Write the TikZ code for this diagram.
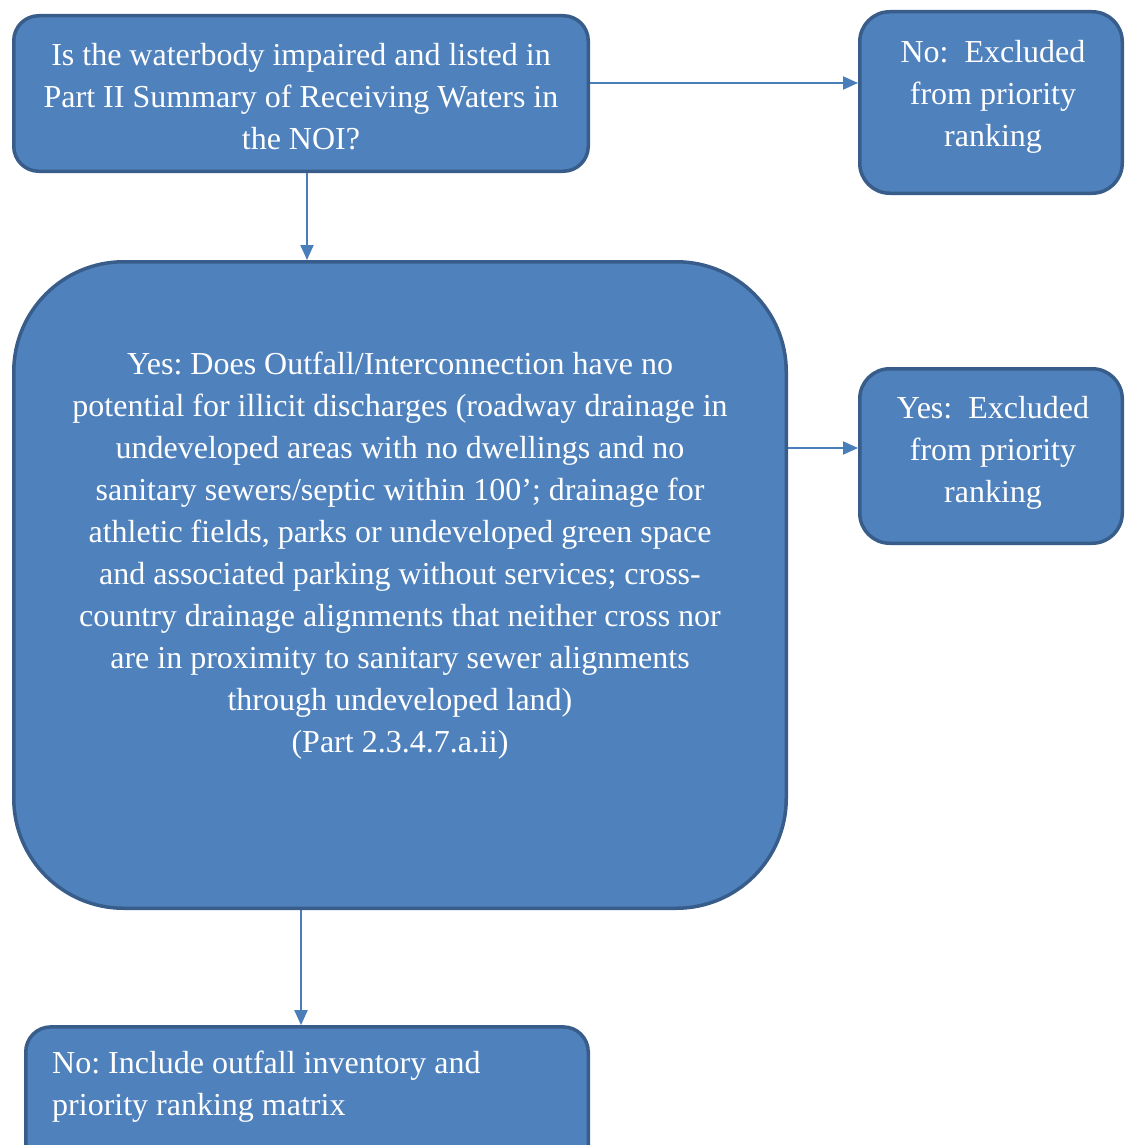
\documentclass[tikz,border=0pt]{standalone}
\usepackage{fontspec}
\setmainfont{Liberation Serif}
\frenchspacing
\usetikzlibrary{arrows.meta}
\definecolor{boxfill}{HTML}{4F81BD}
\definecolor{boxline}{HTML}{385D8A}
\definecolor{arrowc}{HTML}{4A7EBB}
\begin{document}
\begin{tikzpicture}[x=1pt,y=-1pt,
  box/.style={draw=boxline, fill=boxfill, line width=3.5pt, inner sep=0pt},
  txt/.style={text=white, font=\fontsize{32}{42}\selectfont, inner sep=0pt, align=center},
  arr/.style={draw=arrowc, line width=2pt, -{Triangle[length=15pt,width=13pt]}}]
\useasboundingbox (0,0) rectangle (1124,1145);
\clip (0,0) rectangle (1124,1145);
\fill[white] (0,0) rectangle (1124,1145);
% boxes
\node[box, rounded corners=25pt, minimum width=574.5pt, minimum height=155.5pt] (q1) at (301,93.5) {};
\node[box, rounded corners=30pt, minimum width=262.5pt, minimum height=181.5pt] (n1) at (991,102.5) {};
\node[box, rounded corners=110pt, minimum width=772.5pt, minimum height=646.5pt] (q2) at (400,585) {};
\node[box, rounded corners=30pt, minimum width=262.5pt, minimum height=174.5pt] (y1) at (991,456) {};
\node[box, rounded corners=25pt, minimum width=562.5pt, minimum height=148pt] (r1) at (307,1100.9) {};
% texts
\node[txt, anchor=north] (q1t) at (301,43) {Is the waterbody impaired and listed in\\Part II Summary of Receiving Waters in\\the NOI?};
\node[txt, anchor=north] (n1t) at (993,40) {No:\ \ Excluded\\from priority\\ranking};
\node[txt, anchor=north] (q2t) at (400,352) {Yes: Does Outfall/Interconnection have no\\potential for illicit discharges (roadway drainage in\\undeveloped areas with no dwellings and no\\sanitary sewers/septic within 100’; drainage for\\athletic fields, parks or undeveloped green space\\and associated parking without services; cross-\\country drainage alignments that neither cross nor\\are in proximity to sanitary sewer alignments\\through undeveloped land)\\(Part 2.3.4.7.a.ii)};
\node[txt, anchor=north] (y1t) at (993,396) {Yes:\ \ Excluded\\from priority\\ranking};
\node[txt, anchor=north west, align=left] (r1t) at (52,1051) {No: Include outfall inventory and\\priority ranking matrix};
% arrows
\draw[arr] (q1.east |- 0,83) -- (n1.west |- 0,83);
\draw[arr] (q1.south -| 307,0) -- (q2.north -| 307,0);
\draw[arr] (q2.east |- 0,448) -- (y1.west |- 0,448);
\draw[arr] (q2.south -| 301,0) -- (r1.north -| 301,0);
\end{tikzpicture}
\end{document}
